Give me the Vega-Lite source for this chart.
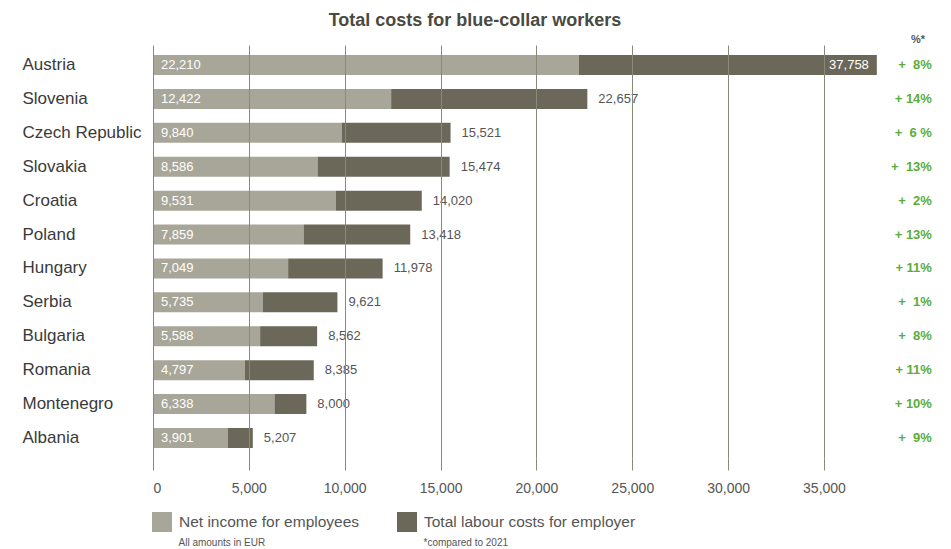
{
  "$schema": "https://vega.github.io/schema/vega-lite/v6.json",
  "width": 786,
  "height": 413,
  "autosize": "none",
  "padding": {"left": 153, "top": 45, "right": 12, "bottom": 91},
  "background": "white",
  "config": {
    "view": {"stroke": null},
    "font": "Liberation Sans"
  },
  "title": {
    "text": "Total costs for blue-collar workers",
    "font": "Liberation Sans",
    "fontSize": 18,
    "fontWeight": "bold",
    "color": "#4a4a40",
    "anchor": "middle",
    "dx": -71,
    "offset": 4
  },
  "data": {
    "values": [
      {"country": "Austria", "net": 22210, "total": 37758, "pct": "+\u00a0\u00a08%"},
      {"country": "Slovenia", "net": 12422, "total": 22657, "pct": "+ 14%"},
      {"country": "Czech Republic", "net": 9840, "total": 15521, "pct": "+\u00a0\u00a06\u00a0%"},
      {"country": "Slovakia", "net": 8586, "total": 15474, "pct": "+\u00a0\u00a013%"},
      {"country": "Croatia", "net": 9531, "total": 14020, "pct": "+\u00a0\u00a02%"},
      {"country": "Poland", "net": 7859, "total": 13418, "pct": "+ 13%"},
      {"country": "Hungary", "net": 7049, "total": 11978, "pct": "+ 11%"},
      {"country": "Serbia", "net": 5735, "total": 9621, "pct": "+\u00a0\u00a01%"},
      {"country": "Bulgaria", "net": 5588, "total": 8562, "pct": "+\u00a0\u00a08%"},
      {"country": "Romania", "net": 4797, "total": 8385, "pct": "+ 11%"},
      {"country": "Montenegro", "net": 6338, "total": 8000, "pct": "+ 10%"},
      {"country": "Albania", "net": 3901, "total": 5207, "pct": "+\u00a0\u00a09%"}
    ]
  },
  "encoding": {
    "y": {
      "field": "country",
      "type": "nominal",
      "sort": null,
      "scale": {"paddingInner": 0.41, "paddingOuter": 0.295},
      "axis": {
        "title": "*compared to 2021",
        "titleAngle": 0,
        "titleX": 270,
        "titleY": 497,
        "titleAlign": "left",
        "titleBaseline": "middle",
        "titleFontSize": 10,
        "titleFontWeight": "normal",
        "titleColor": "#555555",
        "titleFont": "Liberation Sans",
        "domain": false,
        "ticks": false,
        "tickSize": 0,
        "labelAlign": "left",
        "labelPadding": 131,
        "labelFontSize": 17,
        "labelColor": "#3a3a3a",
        "labelFont": "Liberation Sans"
      }
    }
  },
  "layer": [
    {
      "mark": {"type": "bar", "cornerRadius": 0},
      "encoding": {
        "x": {
          "field": "net",
          "type": "quantitative",
          "scale": {"domain": [0, 41000], "nice": false},
          "axis": {
            "values": [0, 5000, 10000, 15000, 20000, 25000, 30000, 35000],
            "format": ",d",
            "zindex": 1,
            "grid": true,
            "gridColor": "#8a887a",
            "gridWidth": 1,
            "gridOpacity": 1,
            "domain": false,
            "ticks": true,
            "tickSize": 12,
            "tickColor": "#8a887a",
            "tickWidth": 1,
            "labelPadding": 11,
            "labelFontSize": 14,
            "labelColor": "#555555",
            "labelFont": "Liberation Sans",
            "title": "All amounts in EUR",
            "titleX": 25,
            "titleY": 84,
            "titleAlign": "left",
            "titleBaseline": "middle",
            "titleFontSize": 10,
            "titleFontWeight": "normal",
            "titleColor": "#555555",
            "titleFont": "Liberation Sans"
          }
        },
        "color": {
          "datum": "Net income for employees",
          "type": "nominal",
          "scale": {
            "domain": ["Net income for employees", "Total labour costs for employer"],
            "range": ["#a8a699", "#6b685a"]
          },
          "legend": {
            "title": null,
            "orient": "none",
            "direction": "horizontal",
            "legendX": -1,
            "legendY": 467,
            "symbolType": "square",
            "symbolSize": 400,
            "symbolStrokeWidth": 0,
            "symbolOpacity": 1,
            "labelFontSize": 15.5,
            "labelColor": "#555555",
            "labelFont": "Liberation Sans",
            "labelOffset": 7,
            "labelLimit": 400,
            "columnPadding": 37
          }
        }
      }
    },
    {
      "mark": {"type": "bar"},
      "encoding": {
        "x": {"field": "net", "type": "quantitative"},
        "x2": {"field": "total"},
        "color": {"datum": "Total labour costs for employer", "type": "nominal"}
      }
    },
    {
      "mark": {"type": "text", "align": "left", "baseline": "middle", "dx": 8, "fontSize": 13, "color": "white"},
      "encoding": {
        "x": {"datum": 0, "type": "quantitative"},
        "text": {"field": "net", "type": "quantitative", "format": ",d"}
      }
    },
    {
      "transform": [{"filter": "datum.total >= 30000"}],
      "mark": {"type": "text", "align": "right", "baseline": "middle", "dx": -8, "fontSize": 13, "color": "white"},
      "encoding": {
        "x": {"field": "total", "type": "quantitative"},
        "text": {"field": "total", "type": "quantitative", "format": ",d"}
      }
    },
    {
      "transform": [{"filter": "datum.total < 30000"}],
      "mark": {"type": "text", "align": "left", "baseline": "middle", "dx": 11, "fontSize": 13, "color": "#555555"},
      "encoding": {
        "x": {"field": "total", "type": "quantitative"},
        "text": {"field": "total", "type": "quantitative", "format": ",d"}
      }
    },
    {
      "mark": {"type": "text", "align": "right", "baseline": "middle", "fontSize": 13, "fontWeight": "bold", "color": "#5aad3c"},
      "encoding": {
        "x": {"datum": 40630, "type": "quantitative"},
        "text": {"field": "pct", "type": "nominal"}
      }
    },
    {
      "transform": [{"filter": "datum.country === 'Austria'"}],
      "mark": {"type": "text", "align": "center", "baseline": "middle", "dy": -25, "fontSize": 11, "fontWeight": "bold", "color": "#555555", "text": "%*"},
      "encoding": {
        "x": {"datum": 39900, "type": "quantitative"}
      }
    }
  ]
}
